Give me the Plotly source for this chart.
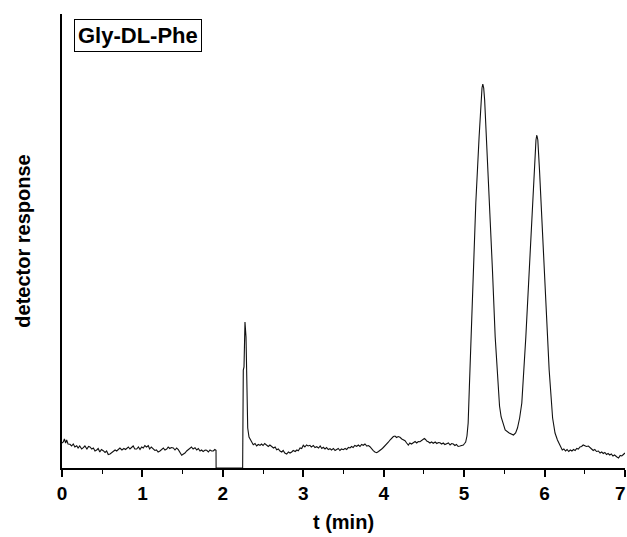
import plotly.graph_objects as go

# Chromatogram: (t in min, detector response in arbitrary units)
baseline_before = [
    (0.0, 25), (0.016, 26), (0.03, 29), (0.045, 25), (0.058, 28), (0.075, 24), (0.099, 23.7),
    (0.12, 22), (0.14, 24), (0.16, 21), (0.183, 22.3), (0.2, 20), (0.22, 22), (0.245, 19),
    (0.265, 20.3), (0.285, 22), (0.31, 19), (0.33, 21.5), (0.348, 21), (0.37, 19), (0.39, 20),
    (0.41, 17), (0.431, 18), (0.45, 19.5), (0.47, 16), (0.49, 18.5), (0.513, 17.3), (0.535, 15.5),
    (0.555, 17), (0.575, 13.5), (0.597, 14), (0.615, 15), (0.638, 16.7), (0.66, 18), (0.68, 17),
    (0.7, 18.7), (0.72, 20), (0.745, 18), (0.77, 19.5), (0.79, 18.5), (0.804, 19.3), (0.825, 21),
    (0.845, 19), (0.867, 20.7), (0.885, 22), (0.905, 19), (0.929, 19), (0.95, 21), (0.97, 18.5),
    (0.99, 21), (1.011, 20), (1.03, 22.5), (1.05, 21), (1.073, 22.3), (1.09, 19), (1.11, 21),
    (1.135, 19), (1.155, 17.5), (1.175, 18), (1.195, 16), (1.218, 17), (1.24, 18.5), (1.26, 20),
    (1.28, 18), (1.302, 19), (1.32, 21), (1.34, 19.5), (1.36, 20.5), (1.384, 20), (1.405, 18),
    (1.425, 20), (1.446, 18.3), (1.465, 15), (1.488, 12.7), (1.51, 14), (1.529, 15), (1.55, 17),
    (1.57, 18.5), (1.591, 19.7), (1.61, 21), (1.63, 19), (1.654, 20.3), (1.675, 18), (1.695, 19.5),
    (1.716, 17), (1.735, 18), (1.755, 16.5), (1.78, 18), (1.799, 17.7), (1.82, 16), (1.84, 18),
    (1.86, 17), (1.881, 17), (1.9, 18.5), (1.915, 17.7),
]
gap = [(1.916, 0), (2.246, 0), (2.247, 0)]
first_peak = [
    (2.247, 78), (2.254, 98), (2.263, 101), (2.275, 146), (2.288, 131), (2.296, 101),
    (2.304, 68), (2.309, 40), (2.325, 31), (2.345, 28), (2.359, 26),
]
baseline_middle = [
    (2.378, 23.3), (2.4, 24.5), (2.42, 22), (2.44, 23.5), (2.462, 22.7), (2.48, 24), (2.5, 22.5),
    (2.52, 24.5), (2.545, 23.3), (2.565, 21.5), (2.585, 23), (2.607, 21.7), (2.63, 20),
    (2.65, 21), (2.669, 18.3), (2.69, 19), (2.71, 17), (2.732, 16), (2.75, 17.5), (2.77, 15),
    (2.794, 14), (2.815, 16), (2.835, 15), (2.856, 16), (2.875, 17.5), (2.9, 16.5), (2.92, 18),
    (2.938, 17.3), (2.96, 20), (2.98, 19.5), (3.0, 22.7), (3.02, 21), (3.04, 23), (3.06, 22),
    (3.083, 22.7), (3.1, 21), (3.125, 22.5), (3.145, 20.5), (3.167, 21.3), (3.19, 20), (3.21, 22),
    (3.23, 19.5), (3.249, 20.7), (3.27, 19), (3.29, 20.5), (3.31, 18.5), (3.332, 19.3),
    (3.35, 18), (3.375, 19.5), (3.395, 17.5), (3.415, 18.3), (3.435, 19.5), (3.455, 17.5),
    (3.475, 19), (3.497, 18.3), (3.52, 19.5), (3.54, 18.5), (3.56, 20.5), (3.581, 20),
    (3.6, 21.5), (3.62, 20.5), (3.64, 22.5), (3.664, 21.7), (3.685, 23), (3.705, 21.5),
    (3.725, 23.5), (3.746, 22.7), (3.767, 24), (3.79, 22), (3.81, 22.5), (3.829, 21.3),
    (3.85, 19), (3.87, 17.3), (3.89, 16), (3.913, 15.3), (3.935, 16.5), (3.954, 17.3),
    (3.975, 19), (3.995, 20.5), (4.016, 22), (4.04, 24.5), (4.06, 26), (4.078, 28),
    (4.1, 30), (4.12, 31.5), (4.14, 32), (4.16, 30.5), (4.18, 31.5), (4.202, 30.7),
    (4.225, 29), (4.245, 28.5), (4.265, 27.3), (4.285, 25), (4.306, 23), (4.325, 25),
    (4.345, 24), (4.368, 25.3), (4.39, 26.5), (4.41, 25), (4.43, 26.5), (4.451, 26.3),
    (4.47, 27.5), (4.49, 28.5), (4.505, 29.5), (4.52, 28.5), (4.535, 27), (4.554, 26.3),
    (4.575, 25), (4.595, 26), (4.616, 24.7), (4.64, 26), (4.66, 24.5), (4.68, 25.5),
    (4.7, 25.3), (4.72, 24), (4.74, 25), (4.76, 23.5), (4.783, 24), (4.805, 25), (4.825, 23),
    (4.845, 24.5), (4.865, 24), (4.885, 22.5), (4.905, 23.5), (4.925, 21.5), (4.948, 22),
    (4.97, 22.5), (4.99, 23), (5.005, 24.5), (5.019, 26),
]
enantiomer_peaks = [
    (5.035, 32), (5.05, 45), (5.065, 81), (5.087, 131), (5.116, 198), (5.145, 265),
    (5.186, 331), (5.21, 368), (5.222, 380), (5.232, 384), (5.243, 380), (5.255, 368),
    (5.277, 331), (5.315, 265), (5.352, 198), (5.386, 131), (5.419, 81), (5.44, 62),
    (5.46, 51), (5.485, 43), (5.51, 38), (5.56, 35), (5.59, 33.5), (5.613, 33), (5.64, 35),
    (5.663, 40), (5.69, 50), (5.717, 65), (5.767, 131), (5.808, 198), (5.846, 265),
    (5.879, 315), (5.893, 328), (5.904, 333), (5.916, 328), (5.937, 298), (5.979, 231),
    (6.016, 165), (6.057, 98), (6.1, 50), (6.13, 35), (6.16, 28), (6.2, 20),
]
baseline_after = [
    (6.22, 18), (6.24, 19), (6.26, 17), (6.28, 18.5), (6.3, 16.5), (6.32, 18), (6.34, 17),
    (6.36, 18.5), (6.38, 17.5), (6.4, 19.5), (6.42, 19), (6.44, 21), (6.46, 21.5), (6.48, 23),
    (6.5, 22), (6.52, 21.5), (6.545, 22), (6.565, 20), (6.585, 19), (6.605, 17.5), (6.625, 18.5),
    (6.645, 16.5), (6.67, 17), (6.69, 15), (6.71, 16), (6.73, 14.5), (6.75, 15.5), (6.77, 13.5),
    (6.79, 14.5), (6.81, 13), (6.83, 14), (6.85, 12), (6.87, 13), (6.9, 11), (6.92, 10),
    (6.94, 12.5), (6.96, 12), (6.98, 13.5), (7.0, 15),
]

x_ticks = [0, 1, 2, 3, 4, 5, 6, 7]
x_tick_labels = ["0", "1", "2", "3", "4", "5", "6", "7\u2002"]
x_title = "t (min)"
y_title = "detector response"
sample_label = "Gly-DL-Phe"

points = baseline_before + gap + first_peak + baseline_middle + enantiomer_peaks + baseline_after
t_vals = [p[0] for p in points]
resp_vals = [p[1] for p in points]

FONT = "Liberation Sans, Arial, Helvetica, sans-serif"

fig = go.Figure()
fig.add_trace(go.Scatter(
    x=t_vals, y=resp_vals, mode="lines",
    line=dict(color="#111111", width=1.1),
    showlegend=False, hoverinfo="skip", cliponaxis=False,
))

fig.update_layout(
    width=627, height=537,
    margin=dict(l=62, r=2, t=14, b=69),
    paper_bgcolor="white", plot_bgcolor="white",
    font=dict(family=FONT, color="black"),
    xaxis=dict(
        range=[0, 7], tickvals=x_ticks, ticktext=x_tick_labels,
        showgrid=False, zeroline=False,
        showline=True, linecolor="black", linewidth=1.5,
        ticks="outside", ticklen=7, tickwidth=1.5, tickcolor="black",
        ticklabeloverflow="allow",
        tickfont=dict(family=FONT, size=19, color="black", weight="bold"),
        minor=dict(ticks="outside", ticklen=4, tickwidth=1.2, tickcolor="black", dtick=0.5, tick0=0),
        title=dict(text=x_title, font=dict(family=FONT, size=20, color="black", weight="bold"), standoff=12),
        automargin=False,
    ),
    yaxis=dict(
        range=[0, 454], showgrid=False, zeroline=False,
        showline=True, linecolor="black", linewidth=1.5,
        ticks="", showticklabels=False,
        title=dict(text=y_title, font=dict(family=FONT, size=20, color="black", weight="bold"), standoff=24),
        automargin=False,
    ),
)

fig.add_annotation(
    xref="paper", yref="paper", x=0.0213, y=0.988,
    xanchor="left", yanchor="top", showarrow=False,
    text=sample_label,
    font=dict(family=FONT, size=22, color="black", weight="bold"),
    bordercolor="black", borderwidth=1, borderpad=3, bgcolor="white",
)

fig.write_html(
    "out.html",
    config={"displayModeBar": False},
    post_script="document.body.style.margin='0';document.body.style.overflow='hidden';",
)
